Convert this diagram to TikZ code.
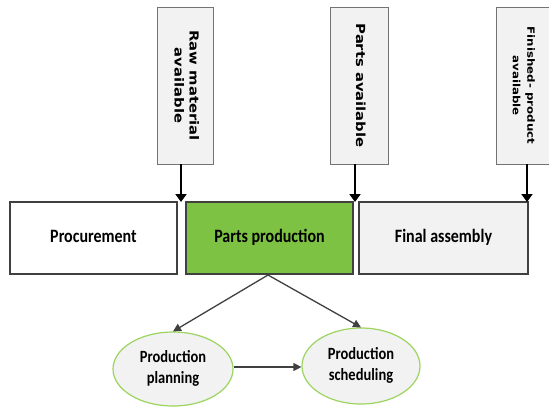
\documentclass[tikz,border=0pt]{standalone}
\usepackage{fontspec}
\setmainfont{Carlito}
\newfontfamily\vfont{DejaVu Sans Bold}
\usetikzlibrary{shadows,arrows.meta,shapes.geometric}
\definecolor{pgreen}{HTML}{7DC242}
\definecolor{lgray}{HTML}{F2F2F2}
\definecolor{egreen}{HTML}{9BD45E}
\newcommand\mystretchv[1]{\scalebox{1}[1.18]{\begin{tabular}{@{}c@{}}#1\end{tabular}}}
\newcommand\mystretchh[1]{\scalebox{1.18}[1]{\begin{tabular}{@{}c@{}}#1\end{tabular}}}
\tikzset{
  mainbox/.style={draw=black!75, line width=1.2pt, minimum height=72pt, inner sep=0pt,
    font=\bfseries\fontsize{16}{18}\selectfont,
    drop shadow={shadow xshift=1.2pt, shadow yshift=-1.2pt, fill=black!45, opacity=0.6}},
  topbox/.style={draw=black!55, line width=0.8pt, fill=lgray, inner sep=0pt,
    drop shadow={shadow xshift=1pt, shadow yshift=-1pt, fill=black!35, opacity=0.6}},
  toptext/.style={rotate=-90, font=\vfont\fontsize{12.5}{15}\selectfont, inner sep=0pt},
  ell/.style={ellipse, draw=egreen, line width=1.2pt, fill=lgray, inner sep=0pt,
    font=\bfseries\fontsize{14.5}{17.5}\selectfont},
  bigarrow/.style={line width=2.6pt, -{Triangle[length=8pt,width=11pt]}},
  thinarrow/.style={draw=black!75, line width=1.3pt, -{Triangle[length=8pt,width=8pt]}}
}
\begin{document}
\begin{tikzpicture}[x=1pt,y=-1pt]
\useasboundingbox (0,0) rectangle (549,408);
% main boxes
\node[mainbox, fill=white, minimum width=167pt] (proc) at (93.5,238) {\mystretchv{Procurement}};
\node[mainbox, fill=pgreen, minimum width=167pt] (parts) at (269.5,238) {\mystretchv{Parts production}};
\node[mainbox, fill=lgray, minimum width=169pt] (final) at (443.5,238) {\mystretchv{Final assembly}};
% top boxes
\node[topbox, minimum width=56pt, minimum height=157pt] (raw) at (185,85.5) {};
\node[toptext] (rawt) at (raw.center) {\mystretchh{Raw material\\available}};
\node[topbox, minimum width=58pt, minimum height=157pt] (pav) at (359,85.5) {};
\node[toptext] (pavt) at (pav.center) {\mystretchh{Parts available}};
\node[topbox, minimum width=54pt, minimum height=157pt] (fin) at (523,85.5) {};
\node[toptext, font=\vfont\fontsize{10}{14.5}\selectfont] (fint) at (fin.center) {\mystretchh{Finished- product\\available}};
% arrows from top boxes
\coordinate (a1) at (181,202);
\coordinate (a2) at (355,202);
\coordinate (a3) at (527,202);
\draw[bigarrow] (raw.south -| a1) -- (a1);
\draw[bigarrow] (pav.south -| a2) -- (a2);
\draw[bigarrow] (fin.south -| a3) -- (a3);
% ellipses
\node[ell, minimum width=120pt, minimum height=74pt] (plan) at (173,369) {\mystretchv{Production\\planning}};
\node[ell, minimum width=118pt, minimum height=76pt] (sched) at (361,366) {\mystretchv{Production\\scheduling}};
\coordinate (apex) at (268,275);
\draw[thinarrow] (apex) -- (plan.north);
\draw[thinarrow] (apex) -- (sched.north);
\draw[thinarrow] (plan.east |- 0,367) -- (sched.west |- 0,367);
\end{tikzpicture}
\end{document}
